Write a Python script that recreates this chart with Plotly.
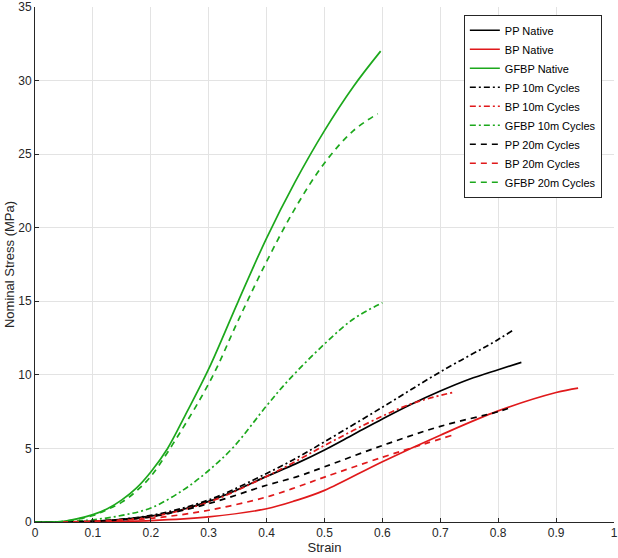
import plotly.graph_objects as go

# strain / stress curves
pp_native_x = [0, 0.1, 0.2, 0.25, 0.3, 0.35, 0.4, 0.45, 0.5, 0.55, 0.6, 0.65, 0.7, 0.75, 0.8, 0.84]
pp_native_y = [0, 0.05, 0.4, 0.8, 1.4, 2.2, 3.1, 3.95, 4.9, 5.95, 7.0, 8.0, 8.9, 9.7, 10.35, 10.85]

bp_native_x = [0.046, 0.1, 0.2, 0.3, 0.4, 0.45, 0.5, 0.6, 0.7, 0.8, 0.9, 0.938]
bp_native_y = [0, 0.02, 0.1, 0.35, 0.9, 1.45, 2.15, 4.1, 5.9, 7.55, 8.8, 9.1]

gfbp_native_x = [0, 0.05, 0.1, 0.125, 0.15, 0.175, 0.2, 0.229, 0.26, 0.3, 0.351, 0.4, 0.449, 0.5, 0.55, 0.597]
gfbp_native_y = [0, 0.05, 0.5, 0.9, 1.5, 2.3, 3.4, 5.0, 7.3, 10.4, 15.0, 19.3, 23.1, 26.6, 29.6, 32.0]

pp_10_x = [0, 0.1, 0.2, 0.3, 0.4, 0.454, 0.5, 0.6, 0.7, 0.8, 0.824]
pp_10_y = [0, 0.05, 0.45, 1.5, 3.3, 4.4, 5.45, 7.8, 10.2, 12.4, 13.0]

bp_10_x = [0.046, 0.1, 0.2, 0.3, 0.4, 0.454, 0.5, 0.6, 0.655, 0.721]
bp_10_y = [0, 0.05, 0.35, 1.35, 3.1, 4.2, 5.2, 7.2, 8.1, 8.8]

gfbp_10_x = [0, 0.05, 0.1, 0.15, 0.2, 0.257, 0.3, 0.343, 0.4, 0.437, 0.5, 0.55, 0.6]
gfbp_10_y = [0, 0.02, 0.15, 0.45, 0.95, 2.2, 3.5, 5.1, 7.9, 9.6, 12.1, 13.8, 14.9]

pp_20_x = [0, 0.1, 0.2, 0.3, 0.4, 0.454, 0.5, 0.6, 0.7, 0.8, 0.823]
pp_20_y = [0, 0.05, 0.35, 1.25, 2.5, 3.1, 3.75, 5.2, 6.5, 7.5, 7.8]

bp_20_x = [0.046, 0.1, 0.2, 0.3, 0.4, 0.454, 0.5, 0.6, 0.672, 0.721]
bp_20_y = [0, 0.05, 0.25, 0.8, 1.7, 2.4, 3.05, 4.4, 5.3, 5.9]

gfbp_20_x = [0, 0.05, 0.1, 0.125, 0.15, 0.175, 0.2, 0.254, 0.306, 0.351, 0.4, 0.449, 0.5, 0.55, 0.592]
gfbp_20_y = [0, 0.05, 0.45, 0.85, 1.35, 2.1, 3.1, 6.3, 9.85, 13.7, 17.7, 21.3, 24.4, 26.6, 27.75]

BLACK = "#000000"
RED = "#e0191b"
GREEN = "#1ca81c"
DASHDOT = "6px,3px,2px,3px"
DASHED = "6px,5px"

series = [
    ("PP Native", pp_native_x, pp_native_y, BLACK, "solid"),
    ("BP Native", bp_native_x, bp_native_y, RED, "solid"),
    ("GFBP Native", gfbp_native_x, gfbp_native_y, GREEN, "solid"),
    ("PP 10m Cycles", pp_10_x, pp_10_y, BLACK, DASHDOT),
    ("BP 10m Cycles", bp_10_x, bp_10_y, RED, DASHDOT),
    ("GFBP 10m Cycles", gfbp_10_x, gfbp_10_y, GREEN, DASHDOT),
    ("PP 20m Cycles", pp_20_x, pp_20_y, BLACK, DASHED),
    ("BP 20m Cycles", bp_20_x, bp_20_y, RED, DASHED),
    ("GFBP 20m Cycles", gfbp_20_x, gfbp_20_y, GREEN, DASHED),
]

fig = go.Figure()
for name, xs, ys, col, dash in series:
    fig.add_trace(go.Scatter(x=xs, y=ys, mode="lines", name=name,
                             line=dict(color=col, width=1.7, dash=dash, shape="spline", smoothing=1.0)))

axis_common = dict(showgrid=True, gridcolor="#e3e3e3", gridwidth=1, zeroline=False,
                   showline=True, linecolor="#262626", linewidth=1,
                   ticks="inside", ticklen=4, tickcolor="#262626",
                   tickfont=dict(size=12, color="#262626"), mirror=False,
                   automargin=False, ticklabeloverflow="allow")

fig.update_xaxes(range=[0, 1], dtick=0.1, tickformat="~g",
                 title=dict(text="Strain", font=dict(size=13, color="#262626"), standoff=2),
                 **axis_common)
fig.update_yaxes(range=[0, 35], dtick=5,
                 title=dict(text="Nominal Stress (MPa)", font=dict(size=13, color="#262626"), standoff=0),
                 **axis_common)

fig.update_layout(
    width=618, height=558,
    margin=dict(l=35, r=4, t=7, b=36),
    plot_bgcolor="white", paper_bgcolor="white",
    font=dict(family="Liberation Sans, Arial, sans-serif", color="#262626"),
    legend=dict(x=0.979, y=0.985, xanchor="right", yanchor="top",
                bgcolor="white", bordercolor="#262626", borderwidth=1,
                font=dict(size=11, color="#000000"), tracegroupgap=0,
                itemwidth=30),
)

# drop the browser's default body margin so the figure sits at the page corner
fig.write_html("out.html", config={"displayModeBar": False},
               post_script="document.body.style.margin='0';")
